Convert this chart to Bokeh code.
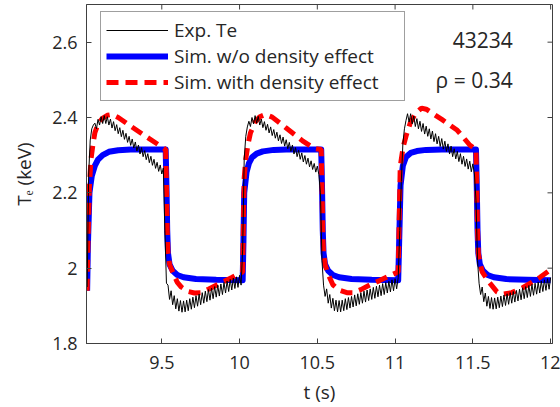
import numpy as np
from bokeh.plotting import figure
from bokeh.models import (LinearAxis, FixedTicker, Range1d, Legend, LegendItem, Label)
from bokeh.embed import file_html
from bokeh.resources import INLINE

# ---------------- data ----------------
# Experimental Te (keV), sampled every 0.01 s from 9.02 s to 12.00 s
exp_t0 = 9.02
exp_dt = 0.01
exp_te = [
    # cycle 1 (9.02 - 10.01)
    1.950, 2.250, 2.340, 2.370, 2.380,
    2.385, 2.370, 2.395, 2.380, 2.402, 2.384, 2.405, 2.384, 2.402, 2.380,
    2.396, 2.372, 2.389, 2.365, 2.381, 2.357, 2.373, 2.349, 2.366, 2.342,
    2.358, 2.334, 2.350, 2.326, 2.343, 2.319, 2.335, 2.311, 2.327, 2.303,
    2.320, 2.296, 2.312, 2.288, 2.304, 2.280, 2.297, 2.273, 2.289, 2.265,
    2.281, 2.257, 2.274, 2.250, 2.266,
    2.100, 1.960,
    1.955, 1.917, 1.940, 1.903, 1.927, 1.892, 1.919, 1.886, 1.914, 1.883,
    1.913, 1.884, 1.915, 1.887, 1.919, 1.891, 1.923, 1.895, 1.927, 1.899,
    1.931, 1.903, 1.935, 1.907, 1.939, 1.911, 1.943, 1.915, 1.947, 1.919,
    1.951, 1.923, 1.955, 1.926, 1.958, 1.930, 1.962, 1.934, 1.966, 1.938,
    1.970, 1.942, 1.974, 1.946, 1.977, 1.949, 1.981, 1.955,
    # cycle 2 (10.02 - 11.01)
    2.050, 2.290, 2.350, 2.375,
    2.390, 2.376, 2.400, 2.383, 2.405, 2.385, 2.403, 2.380, 2.396, 2.373,
    2.389, 2.366, 2.382, 2.359, 2.375, 2.352, 2.368, 2.345, 2.361, 2.338,
    2.354, 2.331, 2.348, 2.324, 2.341, 2.317, 2.334, 2.310, 2.327, 2.303,
    2.320, 2.296, 2.313, 2.289, 2.306, 2.282, 2.299, 2.276, 2.292, 2.269,
    2.285, 2.262, 2.278, 2.255, 2.271, 2.248,
    2.200, 2.020, 1.955,
    1.925, 1.945, 1.907, 1.930, 1.894, 1.920, 1.887, 1.915, 1.884, 1.914,
    1.884, 1.915, 1.887, 1.919, 1.890, 1.922, 1.894, 1.925, 1.897, 1.929,
    1.900, 1.932, 1.904, 1.935, 1.907, 1.939, 1.910, 1.942, 1.914, 1.945,
    1.917, 1.949, 1.920, 1.952, 1.924, 1.955, 1.927, 1.959, 1.930, 1.962,
    1.934, 1.965, 1.937, 1.969, 1.940, 1.972, 1.945,
    # cycle 3 (11.02 - 12.00)
    1.975, 2.100, 2.230, 2.330, 2.370, 2.392,
    2.410, 2.388, 2.410, 2.383, 2.404, 2.376, 2.397, 2.370, 2.390, 2.363,
    2.384, 2.356, 2.377, 2.350, 2.370, 2.343, 2.364, 2.336, 2.357, 2.330,
    2.350, 2.323, 2.344, 2.316, 2.337, 2.310, 2.330, 2.303, 2.324, 2.296,
    2.317, 2.290, 2.310, 2.283, 2.304, 2.276, 2.297, 2.270, 2.290, 2.263,
    2.284, 2.256, 2.277, 2.250,
    2.180, 2.020, 1.960,
    1.930, 1.950, 1.911, 1.934, 1.899, 1.925, 1.893, 1.922, 1.891, 1.921,
    1.892, 1.923, 1.895, 1.926, 1.898, 1.929, 1.901, 1.932, 1.904, 1.935,
    1.907, 1.938, 1.910, 1.941, 1.913, 1.944, 1.916, 1.948, 1.919, 1.951,
    1.922, 1.954, 1.925, 1.957, 1.928, 1.960, 1.931, 1.963, 1.934, 1.966,
    1.938, 1.969, 1.941, 1.972, 1.944, 1.975,
]
exp_t = [round(exp_t0 + exp_dt * i, 3) for i in range(len(exp_te))]

# Simulation without density effect
sim_nodens_t = [9.02, 9.025, 9.035, 9.05, 9.07, 9.09, 9.12, 9.16, 9.22, 9.30, 9.525,
                9.53, 9.535, 9.54, 9.55, 9.57, 9.60, 9.64, 9.72, 9.85, 10.02,
                10.025, 10.03, 10.045, 10.06, 10.08, 10.11, 10.15, 10.22, 10.30, 10.525,
                10.53, 10.535, 10.54, 10.55, 10.57, 10.60, 10.64, 10.72, 10.85, 11.02,
                11.028, 11.035, 11.05, 11.07, 11.10, 11.14, 11.20, 11.30, 11.52,
                11.525, 11.53, 11.535, 11.545, 11.565, 11.595, 11.635, 11.715, 11.85, 12.0]
sim_nodens_te = [1.94, 2.06, 2.20, 2.245, 2.272, 2.288, 2.300, 2.309, 2.313, 2.315, 2.315,
                 2.22, 2.10, 2.04, 2.01, 1.993, 1.982, 1.976, 1.971, 1.969, 1.968,
                 2.07, 2.20, 2.255, 2.278, 2.294, 2.304, 2.310, 2.314, 2.315, 2.315,
                 2.22, 2.10, 2.04, 2.01, 1.993, 1.982, 1.976, 1.971, 1.969, 1.968,
                 2.10, 2.22, 2.272, 2.295, 2.306, 2.311, 2.314, 2.315, 2.315,
                 2.22, 2.10, 2.04, 2.01, 1.993, 1.982, 1.976, 1.971, 1.969, 1.968]

# Simulation with density effect
sim_dens_t = [9.02, 9.025, 9.035, 9.045, 9.058, 9.07, 9.09, 9.116, 9.15, 9.18, 9.22, 9.30, 9.40, 9.50, 9.525,
              9.53, 9.535, 9.54, 9.55, 9.57, 9.60, 9.625, 9.67, 9.71, 9.75, 9.80, 9.88, 9.95, 10.02,
              10.026, 10.03, 10.04, 10.055, 10.07, 10.10, 10.13, 10.167, 10.21, 10.30, 10.405, 10.48, 10.525,
              10.53, 10.535, 10.54, 10.55, 10.565, 10.60, 10.64, 10.69, 10.73, 10.78, 10.84, 10.90, 10.95, 11.02,
              11.026, 11.033, 11.052, 11.07, 11.097, 11.13, 11.17, 11.20, 11.30, 11.40, 11.48, 11.52,
              11.525, 11.53, 11.535, 11.545, 11.56, 11.60, 11.655, 11.69, 11.75, 11.82, 11.93, 12.0]
sim_dens_te = [1.94, 2.06, 2.22, 2.29, 2.33, 2.36, 2.382, 2.397, 2.406, 2.408, 2.400, 2.377, 2.349, 2.322, 2.315,
               2.22, 2.10, 2.04, 2.01, 1.99, 1.962, 1.950, 1.938, 1.934, 1.935, 1.944, 1.961, 1.975, 1.99,
               2.15, 2.24, 2.29, 2.33, 2.359, 2.388, 2.402, 2.408, 2.401, 2.372, 2.338, 2.318, 2.315,
               2.22, 2.10, 2.04, 2.01, 1.988, 1.956, 1.942, 1.935, 1.935, 1.943, 1.956, 1.967, 1.977, 1.99,
               2.12, 2.27, 2.322, 2.35, 2.385, 2.41, 2.425, 2.422, 2.395, 2.366, 2.327, 2.315,
               2.22, 2.10, 2.04, 2.015, 1.99, 1.965, 1.937, 1.931, 1.935, 1.948, 1.975, 1.996]

x_ticks = [9.5, 10, 10.5, 11, 11.5, 12]
x_tick_labels = ["9.5", "10", "10.5", "11", "11.5", "12"]
y_ticks = [1.8, 2.0, 2.2, 2.4, 2.6]
y_tick_labels = ["1.8", "2", "2.2", "2.4", "2.6"]

legend_labels = ["Exp. Te", "Sim. w/o density effect", "Sim. with density effect"]
shot_text = "43234"
rho_text = "\u03c1 = 0.34"

# ---------------- figure ----------------
FONT = "Open Sans"
TXT = "#262626"
AX = "#404040"
X0, X1, Y0, Y1 = 9.016, 12.012, 1.8, 2.7

p = figure(width=560, height=407, output_backend="svg", toolbar_location=None,
           x_range=Range1d(X0, X1), y_range=Range1d(Y0, Y1),
           min_border_left=86, min_border_right=8, min_border_top=4, min_border_bottom=63,
           x_axis_type=None, y_axis_type=None)
p.grid.visible = False
p.outline_line_color = AX
p.outline_line_width = 1
p.background_fill_color = "white"
p.border_fill_color = "white"

def style_axis(ax):
    ax.major_tick_in = 5
    ax.major_tick_out = 0
    ax.minor_tick_line_color = None
    ax.axis_line_color = AX
    ax.major_tick_line_color = AX
    ax.major_label_text_font = FONT
    ax.major_label_text_color = TXT
    ax.major_label_text_font_size = "18px"
    ax.axis_label_text_font = FONT
    ax.axis_label_text_font_size = "19px"
    ax.axis_label_text_font_style = "normal"
    ax.axis_label_text_color = TXT

xb = LinearAxis(ticker=FixedTicker(ticks=x_ticks),
                major_label_overrides={t: s for t, s in zip(x_ticks, x_tick_labels)})
style_axis(xb)
xb.major_label_standoff = 12
xb.axis_label = "t (s)"
xb.axis_label_standoff = 7
p.add_layout(xb, "below")

yl = LinearAxis(ticker=FixedTicker(ticks=y_ticks),
                major_label_overrides={t: s for t, s in zip(y_ticks, y_tick_labels)})
style_axis(yl)
yl.major_label_standoff = 9
yl.axis_label = "T\u2091 (keV)"
yl.axis_label_standoff = 12
p.add_layout(yl, "left")

# inward tick marks on the top and right frame edges (box style), clipped by the frame
p.scatter(x=x_ticks, y=[Y1] * len(x_ticks), marker="dash", angle=np.pi / 2, size=10,
          line_color=AX, line_width=1)
p.scatter(x=[X1] * len(y_ticks), y=y_ticks, marker="dash", size=10,
          line_color=AX, line_width=1)

r_blue = p.line(sim_nodens_t, sim_nodens_te, line_color="#0000FF", line_width=6,
                line_join="round")
r_red = p.line(sim_dens_t, sim_dens_te, line_color="#FF0000", line_width=5,
               line_dash="12 7")
r_exp = p.line(exp_t, exp_te, line_color="black", line_width=1)

legend = Legend(items=[LegendItem(label=legend_labels[0], renderers=[r_exp]),
                       LegendItem(label=legend_labels[1], renderers=[r_blue]),
                       LegendItem(label=legend_labels[2], renderers=[r_red])],
                location=(14, 242))
legend.glyph_width = 62
legend.glyph_height = 20
legend.label_height = 20
legend.label_width = 225
legend.spacing = 0
legend.padding = 5
legend.margin = 0
legend.label_standoff = 6
legend.label_text_font = FONT
legend.label_text_font_size = "19px"
legend.label_text_color = TXT
legend.border_line_color = AX
legend.border_line_width = 1
legend.background_fill_alpha = 1.0
p.add_layout(legend)

for txt, yv in [(shot_text, 2.606), (rho_text, 2.500)]:
    p.add_layout(Label(x=11.756, y=yv, text=txt, text_align="right", text_baseline="middle",
                       text_font=FONT, text_font_size="21px", text_color=TXT))

open("out.html", "w").write(file_html(p, INLINE))
